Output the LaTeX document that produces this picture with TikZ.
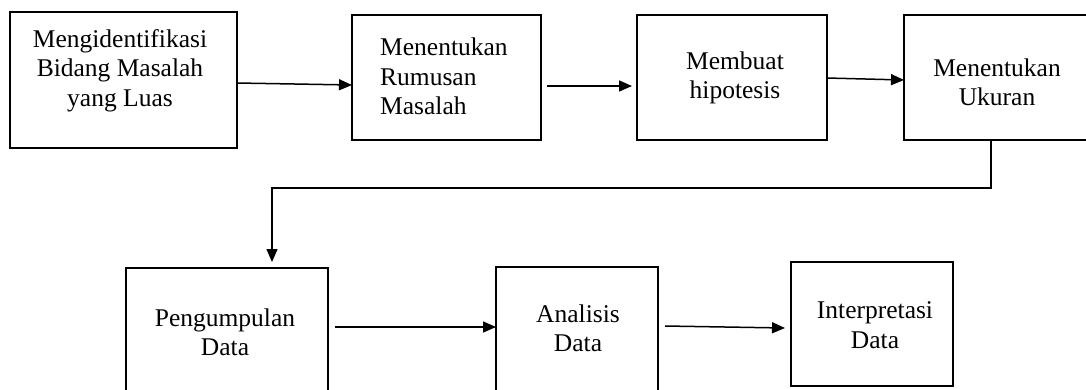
\documentclass[tikz,border=0pt]{standalone}
\usepackage{fontspec}
\setmainfont{Liberation Serif}
\usetikzlibrary{arrows.meta,calc}
\begin{document}
\begin{tikzpicture}[x=1pt,y=-1pt,
  box/.style={draw, line width=1.5pt, inner sep=0pt, outer sep=0pt},
  txt/.style={font=\fontsize{25.5}{29.5}\selectfont, align=center, inner sep=0pt},
  arr/.style={line width=1.5pt, -{Triangle[length=13pt,width=11pt]}}]
\useasboundingbox (0,0) rectangle (1086,389);
\clip (0,0) rectangle (1086,389);
% boxes
\node[box, minimum width=227, minimum height=136] (b1) at (123.5,80) {};
\node[box, minimum width=189, minimum height=125] (b2) at (446.5,77.5) {};
\node[box, minimum width=190, minimum height=125] (b3) at (732,77.5) {};
\node[box, minimum width=191, minimum height=125] (b4) at (999.5,77.5) {};
\node[box, minimum width=202, minimum height=132] (b5) at (227,334) {};
\node[box, minimum width=162, minimum height=133] (b6) at (577,333.5) {};
\node[box, minimum width=162, minimum height=124] (b7) at (872,324) {};
% texts
\node[txt] (t1) at (120,70.5) {Mengidentifikasi\\Bidang Masalah\\yang Luas};
\node[txt, align=left, anchor=west] (t2) at (380,76.5) {Menentukan\\Rumusan\\Masalah};
\node[txt] (t3) at (735,78) {Membuat\\hipotesis};
\node[txt] (t4) at (997,82.5) {Menentukan\\Ukuran};
\node[txt] (t5) at (225,332.5) {Pengumpulan\\Data};
\node[txt] (t6) at (578,328.5) {Analisis\\Data};
\node[txt] (t7) at (875,325) {Interpretasi\\Data};
% connectors
\draw[arr] (b1.east |- 0,83) -- (b2.west |- 0,85);
\draw[arr] ($(b2.east |- 0,86)+(6,0)$) -- ($(b3.west |- 0,86)+(-5,0)$);
\draw[arr] (b3.east |- 0,78) -- (b4.west |- 0,80);
\coordinate (c1) at (272,188);
\draw[arr] ($(b4.south)+(-8.5,0)$) |- (c1) -- ($(b5.north -| c1)+(0,-6)$);
\draw[arr] ($(b5.east |- 0,327)+(7,0)$) -- (b6.west |- 0,327);
\draw[arr] ($(b6.east |- 0,326)+(7,0)$) -- ($(b7.west |- 0,328)+(-6,0)$);
\end{tikzpicture}
\end{document}
